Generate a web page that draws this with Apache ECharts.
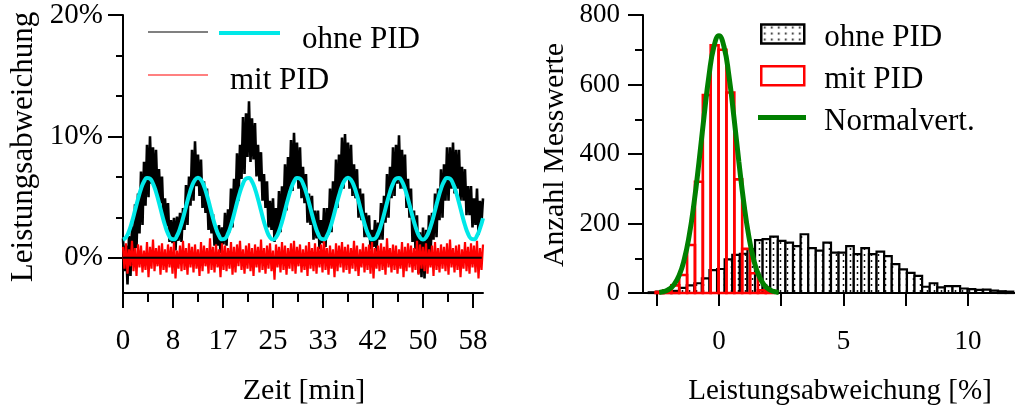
<!DOCTYPE html>
<html><head><meta charset="utf-8">
<script src="https://cdn.jsdelivr.net/npm/echarts@6/dist/echarts.min.js"></script>
<style>html,body{margin:0;padding:0;background:#fff}#c{width:1015px;height:409px}</style>
</head><body><div id="c"></div>
<script>
// ---------- left panel: time series (t in min, value in %) ----------
const sampleStep = 0.25;   // minutes between samples of the measured series
const blackVals = [
 1.6,-1.1, 1.0,-2.2, 1.8,-1.5, 2.6,-0.6, 4.4,0.8, 5.3,2.0, 7.1,2.7, 7.9,4.3,
 9.3,5.0, 10.0,6.1, 9.1,5.7, 8.9,5.0, 7.3,4.5, 6.7,3.0, 4.9,2.6, 4.5,1.3,
 3.1,1.2, 3.3,0.6, 3.4,1.4, 3.7,1.3, 4.1,2.3, 6.0,2.7, 6.7,4.3, 8.9,4.7,
 9.6,5.9, 8.5,5.1, 8.1,4.1, 6.3,3.7, 5.7,2.3, 3.9,2.0, 3.6,1.0, 2.6,1.0,
 2.7,0.4, 2.5,1.1, 3.7,1.0, 4.0,2.1, 5.7,2.5, 6.5,4.1, 8.6,4.7, 9.3,6.5,
 11.6,6.9, 11.9,8.3, 12.9,7.9, 11.5,8.1, 11.1,6.7, 9.3,6.3, 8.7,4.7, 6.9,4.1,
 6.3,2.5, 4.7,2.3, 4.9,1.3, 4.1,1.9, 5.5,2.1, 5.9,3.5, 7.7,3.9, 8.3,5.5,
 9.7,5.5, 10.3,6.5, 9.5,5.7, 9.1,4.9, 7.5,4.5, 6.9,2.9, 5.3,2.7, 5.1,1.5,
 3.9,1.6, 3.9,0.7, 3.1,1.2, 4.1,0.9, 4.1,1.9, 5.7,2.1, 6.3,3.7, 8.1,4.1,
 8.5,5.7, 9.9,5.7, 10.2,6.5, 9.5,5.7, 9.3,5.1, 7.7,4.9, 7.3,3.3, 5.7,3.1,
 5.3,1.7, 3.7,1.7, 3.5,0.7, 2.3,0.9, 3.1,0.5, 2.9,1.5, 4.5,1.5, 5.1,2.9,
 6.9,3.3, 7.5,4.9, 9.1,5.1, 9.3,6.1, 10.1,5.7, 8.9,5.7, 8.5,4.1, 6.5,3.3,
 5.7,1.3, 3.9,0.7, 3.5,-1.3, 2.1,-1.6, 2.5,-1.7, 2.3,-0.5, 3.5,0.1, 3.7,1.5,
 5.3,1.7, 5.7,3.1, 7.3,3.3, 7.7,4.7, 9.1,4.7, 9.1,5.7, 9.5,5.3, 8.9,5.7,
 8.9,4.7, 7.5,4.7, 7.3,3.5, 5.9,3.5, 5.9,2.5, 4.9,2.7, 5.7,1.9, 4.7,2.9,
 4.9
];
const redVals = [
 0.9,-0.9, 1.2,-1.3, 0.7,-0.7, 1.4,-1.1, 0.8,-1.5, 1.1,-0.8, 1.0,-1.2, 0.6,-1.0, 1.3,-1.6, 0.9,-0.9,
 1.5,-1.1, 0.8,-0.7, 1.0,-1.4, 1.2,-1.0, 0.7,-1.2, 1.1,-0.8, 0.9,-1.3, 1.3,-1.7, 0.6,-0.9, 1.0,-1.1,
 1.4,-1.0, 0.8,-1.4, 1.2,-0.8, 0.9,-1.2, 1.1,-0.9, 0.7,-1.5, 1.3,-1.1, 1.0,-0.7, 0.8,-1.3, 1.6,-1.0,
 0.9,-1.2, 1.1,-0.8, 0.7,-1.6, 1.2,-1.0, 1.0,-1.1, 0.8,-0.9, 1.3,-1.4, 0.9,-1.2, 1.1,-0.7, 1.4,-1.0,
 0.7,-1.3, 1.0,-0.9, 1.2,-1.1, 0.8,-1.5, 1.1,-0.8, 0.9,-1.2, 1.5,-1.0, 0.8,-1.3, 1.0,-0.9, 1.2,-1.1,
 0.6,-1.8, 1.1,-0.8, 0.9,-1.2, 1.3,-1.0, 1.0,-1.4, 0.8,-0.9, 1.2,-1.1, 1.4,-1.3, 0.9,-0.7, 1.1,-1.2,
 0.7,-1.0, 1.0,-1.5, 1.3,-0.9, 0.8,-1.1, 1.2,-1.3, 0.9,-0.8, 1.1,-1.2, 1.5,-1.0, 0.8,-1.4, 1.0,-0.9,
 0.7,-1.6, 1.2,-1.1, 1.0,-0.8, 1.3,-1.2, 0.9,-1.0, 1.1,-1.3, 0.8,-0.9, 1.4,-1.1, 1.0,-1.5, 0.7,-0.8,
 1.2,-1.2, 0.9,-1.0, 1.1,-1.3, 1.3,-1.7, 0.8,-0.9, 1.0,-1.1, 1.2,-1.0, 0.9,-1.4, 1.6,-0.8, 0.8,-1.2,
 1.1,-1.0, 1.0,-1.3, 0.7,-0.9, 1.3,-1.6, 0.9,-1.1, 1.2,-0.8, 1.0,-1.2, 0.8,-1.0, 1.4,-1.4, 1.1,-0.9,
 0.9,-1.1, 1.2,-1.3, 0.7,-0.8, 1.0,-1.5, 1.3,-1.0, 0.8,-1.2, 1.1,-0.9, 0.9,-1.1, 1.2,-1.4, 1.5,-0.8,
 0.8,-1.2, 1.0,-1.0, 1.1,-1.6, 0.7,-0.9, 1.3,-1.1, 0.9,-1.3, 1.2,-0.8, 1.0,-1.2, 1.4,-1.7, 0.8,-1.0,
 1.1
];
const fitStep = 0.5;       // minutes between samples of the fitted curve
const fitVals = [
 1.50,1.68,2.19,2.96,3.89,4.84,5.68,6.28,6.58,6.52,6.11,5.42,4.53,3.57,2.68,1.99,1.58,1.52,1.82,2.42,
 3.26,4.21,5.14,5.91,6.42,6.60,6.42,5.91,5.14,4.21,3.26,2.42,1.82,1.52,1.58,1.99,2.68,3.57,4.53,5.42,
 6.11,6.52,6.58,6.28,5.68,4.84,3.89,2.96,2.19,1.68,
 1.50,1.68,2.19,2.96,3.89,4.84,5.68,6.28,6.58,6.52,6.11,5.42,4.53,3.57,2.68,1.99,1.58,1.52,1.82,2.42,
 3.26,4.21,5.14,5.91,6.42,6.60,6.42,5.91,5.14,4.21,3.26,2.42,1.82,1.52,1.58,1.99,2.68,3.57,4.53,5.42,
 6.11,6.52,6.58,6.28,5.68,4.84,3.89,2.96,2.19,1.68,
 1.50,1.68,2.19,2.96,3.89,4.84,5.68,6.28,6.58,6.52,6.11,5.42,4.53,3.57,2.68,1.99,1.58,1.52,1.82,2.42,
 3.26
];
const zeroLineX = [0, 59.8];
const timeTickValues = [0, 8.333, 16.667, 25, 33.333, 41.667, 50, 58.333];
const timeTickLabels = ['0', '8', '17', '25', '33', '42', '50', '58'];
const timeMinorTicks = [4.167, 12.5, 20.833, 29.167, 37.5, 45.833, 54.167];
const pctTickValues = [0, 10, 20];
const pctTickLabels = ['0%', '10%', '20%'];
const pctMinorTicks = [3.333, 6.667, 13.333, 16.667];

// ---------- right panel: histograms ----------
const ohneBinStart = -2.82, ohneBinWidth = 0.305;
const ohneCounts = [2,4,3,6,15,22,28,42,66,69,97,110,113,126,152,155,162,150,145,135,169,129,122,145,
 116,116,135,112,129,112,119,106,83,68,58,49,18,28,16,20,20,13,11,9,10,7,5,4];
const mitBinStart = -2.543, mitBinWidth = 0.316;
const mitCounts = [3,8,22,52,138,320,570,713,700,577,327,127,57,8,2];
const normX = [-2.4,-2.2,-2.0,-1.8,-1.6,-1.4,-1.2,-1.0,-0.8,-0.6,-0.4,-0.2,0,0.2,0.4,0.6,0.8,1.0,1.2,1.4,1.6,1.8,2.0,2.2,2.4];
const normY = [1.7,4.6,11.1,24.6,50.3,94.4,163,258.9,377.8,507,625.5,709.6,740,709.6,625.5,507,377.8,258.9,163,94.4,50.3,24.6,11.1,4.6,1.7];
const diffTickValues = [-2.5, 0, 2.5, 5, 7.5, 10];
const diffLabelValues = [0, 5, 10];
const diffLabels = ['0', '5', '10'];
const countTickValues = [0, 200, 400, 600, 800];
const countTickLabels = ['0', '200', '400', '600', '800'];
const countMinorTicks = [100, 300, 500, 700];

// ---------- build ----------
const FONT = 'Liberation Serif';
const lookup = (vals, labels) => v => { const i = vals.findIndex(x => Math.abs(x - v) < 1e-6); return i >= 0 ? labels[i] : ''; };
const blackData = blackVals.map((v, i) => [i * sampleStep, v]);
const redData = redVals.map((v, i) => [i * sampleStep, v]);
const fitData = fitVals.map((v, i) => [i * fitStep, v]);
const zeroData = zeroLineX.map(x => [x, 0]);
const ohneData = ohneCounts.map((n, i) => [ohneBinStart + i * ohneBinWidth, ohneBinStart + (i + 1) * ohneBinWidth, n]);
const mitData = mitCounts.map((n, i) => [mitBinStart + i * mitBinWidth, mitBinStart + (i + 1) * mitBinWidth, n]);
const normData = normX.map((x, i) => [x, normY[i]]);

function dotPattern() {
  const c = document.createElement('canvas'); c.width = 7; c.height = 6;
  const g = c.getContext('2d');
  g.fillStyle = '#fff'; g.fillRect(0, 0, 7, 6);
  g.fillStyle = '#000'; g.beginPath(); g.arc(3.5, 3, 0.95, 0, Math.PI * 2); g.fill();
  return c;
}
const dotFill = { image: dotPattern(), repeat: 'repeat' };

function histRender(fill, stroke, lw) {
  return function (params, api) {
    const a = api.coord([api.value(0), api.value(2)]);
    const b = api.coord([api.value(1), 0]);
    return { type: 'rect', shape: { x: a[0], y: a[1], width: b[0] - a[0], height: b[1] - a[1] },
      style: { fill: fill, stroke: stroke, lineWidth: lw } };
  };
}

const axisLine = { show: true, onZero: false, lineStyle: { color: '#000', width: 2 } };
const tickLine = { color: '#000', width: 2 };
const lbl = (size, margin, vals, labels) => ({ customValues: vals, formatter: lookup(vals, labels),
  fontFamily: FONT, fontSize: size, color: '#000', margin: margin });
const lgText = (size, padLeft) => ({ fontFamily: FONT, fontSize: size, color: '#000', padding: [0, 0, 0, padLeft] });

const option = {
  animation: false,
  backgroundColor: '#fff',
  grid: [
    { left: 123, top: 15, width: 360, height: 278 },
    { left: 643, top: 15, width: 372, height: 278 }
  ],
  xAxis: [
    { gridIndex: 0, type: 'value', min: 0, max: 60, position: 'bottom', axisLine: axisLine,
      axisTick: { show: true, customValues: timeTickValues, length: 15, lineStyle: tickLine },
      axisLabel: lbl(29, 34, timeTickValues, timeTickLabels), splitLine: { show: false } },
    { gridIndex: 0, type: 'value', min: 0, max: 60, position: 'bottom', axisLine: { show: false, onZero: false },
      axisTick: { show: true, customValues: timeMinorTicks, length: 9, lineStyle: tickLine },
      axisLabel: { show: false }, splitLine: { show: false } },
    { gridIndex: 1, type: 'value', min: -3.05, max: 11.89, position: 'bottom', axisLine: axisLine,
      axisTick: { show: true, customValues: diffTickValues, length: 13, lineStyle: tickLine },
      axisLabel: lbl(27, 35, diffLabelValues, diffLabels), splitLine: { show: false } }
  ],
  yAxis: [
    { gridIndex: 0, type: 'value', min: -2.9, max: 20, position: 'left', axisLine: axisLine,
      axisTick: { show: true, customValues: pctTickValues, length: 15, lineStyle: tickLine },
      axisLabel: lbl(29, 20, pctTickValues, pctTickLabels), splitLine: { show: false } },
    { gridIndex: 0, type: 'value', min: -2.9, max: 20, position: 'left', axisLine: { show: false, onZero: false },
      axisTick: { show: true, customValues: pctMinorTicks, length: 7, lineStyle: tickLine },
      axisLabel: { show: false }, splitLine: { show: false } },
    { gridIndex: 1, type: 'value', min: 0, max: 800, position: 'left', axisLine: axisLine,
      axisTick: { show: true, customValues: countTickValues, length: 15, lineStyle: tickLine },
      axisLabel: lbl(27, 23, countTickValues, countTickLabels), splitLine: { show: false } },
    { gridIndex: 1, type: 'value', min: 0, max: 800, position: 'left', axisLine: { show: false, onZero: false },
      axisTick: { show: true, customValues: countMinorTicks, length: 8, lineStyle: tickLine },
      axisLabel: { show: false }, splitLine: { show: false } }
  ],
  legend: [
    { left: 148, top: 31, padding: 0, itemWidth: 60, itemHeight: 2, selectedMode: false,
      formatter: () => '', textStyle: lgText(31, 0),
      data: [{ name: 'ohne PID (Messung)', icon: 'rect', itemStyle: { color: '#808080', borderWidth: 0 } }] },
    { left: 219, top: 24.5, padding: 0, itemWidth: 61, itemHeight: 18, selectedMode: false,
      textStyle: lgText(31, 17),
      data: [{ name: 'ohne PID', icon: 'path://M0,0L61,0L61,4L0,4Z M0,18', itemStyle: { color: '#00e8e8', borderWidth: 0 } }] },
    { left: 148, top: 65.5, padding: 0, itemWidth: 60, itemHeight: 14, selectedMode: false,
      textStyle: lgText(31, 17),
      data: [{ name: 'mit PID', icon: 'path://M0,0L60,0L60,2L0,2Z M0,14', itemStyle: { color: '#ff8080', borderWidth: 0 } }] },
    { left: 760, top: 22.5, padding: 0, itemWidth: 43, itemHeight: 27, selectedMode: false,
      formatter: () => 'ohne PID', textStyle: lgText(31, 15),
      data: [{ name: 'ohne PID (Histogramm)', icon: 'path://M0,0L43,0L43,19L0,19Z M0,27', itemStyle: { color: dotFill, borderColor: '#000', borderWidth: 2.5 } }] },
    { left: 760, top: 64.2, padding: 0, itemWidth: 43, itemHeight: 27, selectedMode: false,
      formatter: () => 'mit PID', textStyle: lgText(31, 15),
      data: [{ name: 'mit PID (Histogramm)', icon: 'path://M0,0L43,0L43,19L0,19Z M0,27', itemStyle: { color: '#fff', borderColor: '#ff0000', borderWidth: 2.5 } }] },
    { left: 758, top: 106.5, padding: 0, itemWidth: 48, itemHeight: 14, selectedMode: false,
      textStyle: lgText(31, 13),
      data: [{ name: 'Normalvert.', icon: 'path://M0,0L48,0L48,5L0,5Z M0,14', itemStyle: { color: '#008000', borderWidth: 0 } }] }
  ],
  graphic: { elements: [
    { type: 'text', x: 304, y: 391, style: { text: 'Zeit [min]', fontFamily: FONT, fontSize: 30, fill: '#000', align: 'center', verticalAlign: 'middle' } },
    { type: 'text', x: 840, y: 391, style: { text: 'Leistungsabweichung [%]', fontFamily: FONT, fontSize: 29, fill: '#000', align: 'center', verticalAlign: 'middle' } },
    { type: 'text', x: 24, y: 147, rotation: Math.PI / 2, style: { text: 'Leistungsabweichung', fontFamily: FONT, fontSize: 31, fill: '#000', align: 'center', verticalAlign: 'middle' } },
    { type: 'text', x: 555, y: 155, rotation: Math.PI / 2, style: { text: 'Anzahl Messwerte', fontFamily: FONT, fontSize: 30, fill: '#000', align: 'center', verticalAlign: 'middle' } }
  ] },
  series: [
    { name: 'ohne PID (Messung)', type: 'line', xAxisIndex: 0, yAxisIndex: 0, data: blackData, symbol: 'none',
      lineStyle: { color: '#000', width: 2.6 }, itemStyle: { color: '#000' } },
    { name: 'mit PID', type: 'line', xAxisIndex: 0, yAxisIndex: 0, data: redData, symbol: 'none',
      lineStyle: { color: '#ff0000', width: 2.2 }, itemStyle: { color: '#ff0000' } },
    { name: 'Null', type: 'line', xAxisIndex: 0, yAxisIndex: 0, data: zeroData, symbol: 'none',
      lineStyle: { color: '#000', width: 2 } },
    { name: 'ohne PID', type: 'line', xAxisIndex: 0, yAxisIndex: 0, data: fitData, symbol: 'none', smooth: true,
      lineStyle: { color: '#00e8e8', width: 4 }, itemStyle: { color: '#00e8e8' } },
    { name: 'ohne PID (Histogramm)', type: 'custom', xAxisIndex: 2, yAxisIndex: 2, data: ohneData,
      encode: { x: [0, 1], y: 2 }, renderItem: histRender(dotFill, '#000', 2.2), itemStyle: { color: '#000' } },
    { name: 'mit PID (Histogramm)', type: 'custom', xAxisIndex: 2, yAxisIndex: 2, data: mitData,
      encode: { x: [0, 1], y: 2 }, renderItem: histRender('none', '#ff0000', 2.6), itemStyle: { color: '#ff0000' } },
    { name: 'Normalvert.', type: 'line', xAxisIndex: 2, yAxisIndex: 2, data: normData, symbol: 'none', smooth: true,
      lineStyle: { color: '#008000', width: 5 }, itemStyle: { color: '#008000' } }
  ]
};
const chart = echarts.init(document.getElementById('c'), null, { renderer: 'canvas' });
chart.setOption(option);
</script></body></html>
